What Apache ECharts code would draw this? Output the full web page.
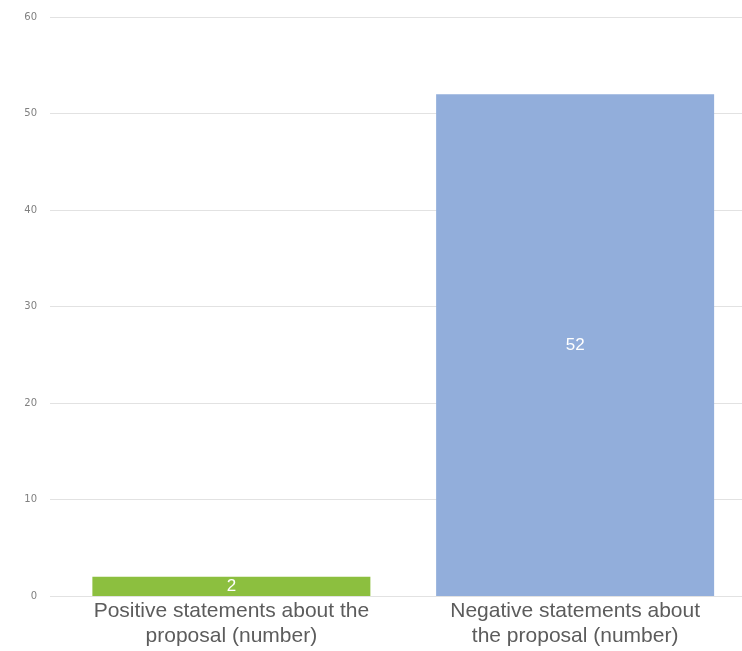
<!DOCTYPE html>
<html><head><meta charset="utf-8">
<script src="https://cdn.jsdelivr.net/npm/echarts@6/dist/echarts.min.js"></script>
<style>html,body{margin:0;padding:0;background:#fff;overflow:hidden}#c{width:747px;height:651px}</style>
</head><body><div id="c"></div>
<script>
const categories = ['Positive statements about the\nproposal (number)', 'Negative statements about\nthe proposal (number)'];
const values = [2, 52];
const barColors = ['#8cbf3f', '#92aedb'];
const yTicks = [0, 10, 20, 30, 40, 50, 60];

const chart = echarts.init(document.getElementById('c'));
chart.setOption({
  animation: false,
  grid: [
    {left: 50, right: 5, top: 17, bottom: 55},
    {left: 59.5, right: 0, top: 17, bottom: 55}
  ],
  xAxis: [
    {gridIndex: 0, type: 'category', data: categories, show: false},
    {gridIndex: 1, type: 'category', data: categories,
     axisLine: {show: false}, axisTick: {show: false},
     axisLabel: {color: '#5c5c5c', fontSize: 21, lineHeight: 25, margin: 3, interval: 0,
       fontFamily: 'Liberation Sans, Arial, sans-serif'}}
  ],
  yAxis: [
    {gridIndex: 0, type: 'value', min: yTicks[0], max: yTicks[yTicks.length-1], interval: 10,
     axisLine: {show: false}, axisTick: {show: false},
     axisLabel: {color: '#808080', fontSize: 10, margin: 13, fontFamily: 'DejaVu Sans, sans-serif'},
     splitLine: {lineStyle: {color: '#e2e2e2', width: 1}}},
    {gridIndex: 1, type: 'value', min: 0, max: 60, interval: 10, show: false}
  ],
  series: [{
    type: 'bar', xAxisIndex: 1, yAxisIndex: 1,
    data: values.map((v, i) => ({value: v, itemStyle: {color: barColors[i]}})),
    barWidth: 278,
    label: {show: true, position: 'inside', color: '#fff', fontSize: 17,
      fontFamily: 'Liberation Sans, Arial, sans-serif'}
  }]
});
</script></body></html>
